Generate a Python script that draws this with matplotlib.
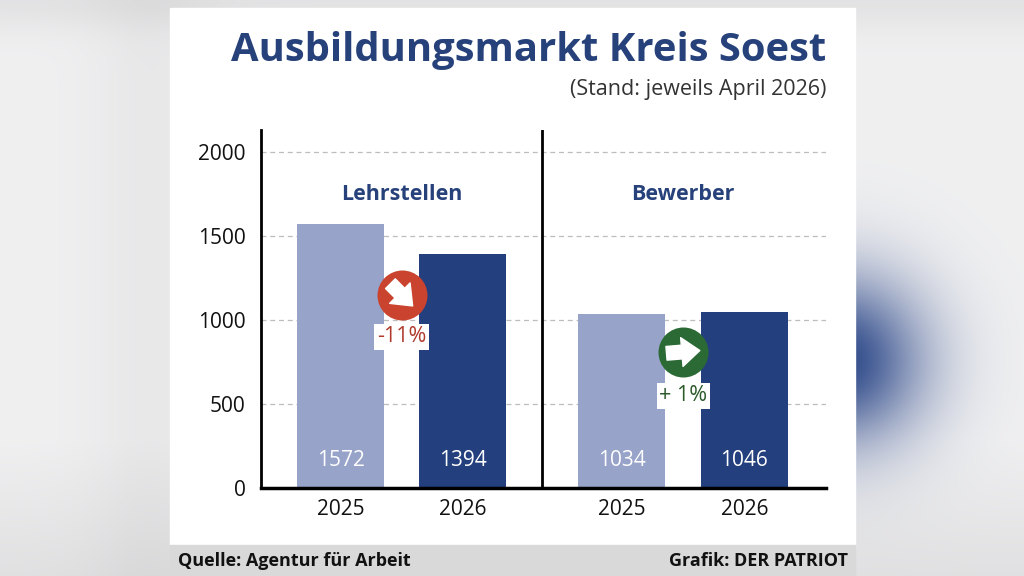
import numpy as np
import matplotlib
matplotlib.use("Agg")
import matplotlib.pyplot as plt
from matplotlib.patches import Rectangle
from matplotlib.transforms import offset_copy

# data
groups = ["Lehrstellen", "Bewerber"]
years = ["2025", "2026"]
lehrstellen = [1572, 1394]
bewerber = [1034, 1046]

title = "Ausbildungsmarkt Kreis Soest"
subtitle = "(Stand: jeweils April 2026)"
source = "Quelle: Agentur für Arbeit"
credit = "Grafik: DER PATRIOT"

# styling
light = "#97a3c9"
dark = "#243f7e"
navy = "#27417b"
font = ["Open Sans", "DejaVu Sans"]
plt.rcParams["font.family"] = font

fig = plt.figure(figsize=(10.24, 5.76), dpi=100)

# blurred photo background
H, W = 576, 1024
yy, xx = np.mgrid[0:H, 0:W]
base = 0.94 - 0.05 * np.exp(-((yy - 0) / 30.0) ** 2) - 0.06 * np.clip((yy - 440) / 136.0, 0, 1)
base = base - 0.03 * np.exp(-((xx - 150) / 60.0) ** 2)
img = np.dstack([base, base, base + 0.005])
blob = 0.95 * np.exp(-(((xx - 840) / 85.0) ** 2 + ((yy - 360) / 85.0) ** 2))
blue = np.array([0.16, 0.27, 0.53])
img = img * (1 - blob[..., None]) + blue * blob[..., None]
bg = fig.add_axes([0, 0, 1, 1], zorder=-10)
bg.imshow(np.clip(img, 0, 1), aspect="auto", extent=(0, W, H, 0))
bg.set_axis_off()

# white panel and footer
fig.patches.append(Rectangle((170 / W, (576 - 545) / H), 685 / W, 537 / H,
                             transform=fig.transFigure, color="white", zorder=-5))
fig.patches.append(Rectangle((170 / W, 0), 685 / W, 31 / H,
                             transform=fig.transFigure, color="#d9d9d9", zorder=-5))

fig.text(826 / W, 1 - 50 / H, title, ha="right", va="center", fontsize=28.8,
         fontweight="bold", color=navy)
fig.text(826 / W, 1 - 89 / H, subtitle, ha="right", va="center", fontsize=15.5,
         color="#333333")
fig.text(178 / W, 1 - 561 / H, source, ha="left", va="center", fontsize=13,
         fontweight="bold", color="#111111")
fig.text(848 / W, 1 - 561 / H, credit, ha="right", va="center", fontsize=13,
         fontweight="bold", color="#111111")

ax = fig.add_axes([261 / W, 1 - 488 / H, 565 / W, 358 / H])
ax.set_facecolor("none")

x = [0, 1, 2.307, 3.311]
values = lehrstellen + bewerber
colors = [light, dark, light, dark]
ax.bar(x, values, width=0.713, color=colors, zorder=2)
for xi, v in zip(x, values):
    ax.text(xi, 165, str(v), ha="center", va="center", color="white", fontsize=15, zorder=3)

ax.set_xlim(-0.652, 3.98)
ax.set_ylim(0, 2131)
ax.set_yticks([0, 500, 1000, 1500, 2000])
ax.set_xticks(x)
ax.set_xticklabels(years * 2)
ax.tick_params(axis="both", length=0, labelsize=15, colors="#111111")
ax.tick_params(axis="y", pad=11)
ax.tick_params(axis="x", pad=8)
for yv in [500, 1000, 1500, 2000]:
    ax.axhline(yv, color="#bdbdbd", lw=0.9, ls=(0, (4, 3)), zorder=1)
ax.axvline(1.652, color="black", lw=2, zorder=3)

for s in ["top", "right"]:
    ax.spines[s].set_visible(False)
ax.spines["left"].set_linewidth(2)
ax.spines["bottom"].set_linewidth(2.5)
ax.spines["bottom"].set_zorder(4)

# group titles
centers = [(x[0] + x[1]) / 2, (x[2] + x[3]) / 2]
for c, g in zip(centers, groups):
    ax.text(c, 1750, g, ha="center", va="center", fontsize=15.5, fontweight="bold", color=navy)

# change badges
pairs = [lehrstellen, bewerber]
badge_y = [1150, 810]
label_y = [899, 548]
for c, p, by, ly in zip(centers, pairs, badge_y, label_y):
    pct = round((p[1] - p[0]) / p[0] * 100)
    if pct < 0:
        fc, tc, lab, d = "#c9432f", "#b03a2c", f"{pct}%", (8, -8)
    else:
        fc, tc, lab, d = "#2b6a35", "#2b5a2b", f"+ {pct}%", (12, 1)
    ax.scatter([c], [by], s=36 ** 2, color=fc, zorder=6, linewidths=0)
    head = offset_copy(ax.transData, fig, x=d[0], y=d[1], units="points")
    ax.annotate("", xy=(c, by), xycoords=head, xytext=(-2 * d[0], -2 * d[1]),
                textcoords="offset points", zorder=7,
                arrowprops=dict(arrowstyle="simple,head_length=0.5,head_width=0.8,tail_width=0.38",
                                color="white", mutation_scale=26, shrinkA=0, shrinkB=0))
    ax.text(c, ly, lab, ha="center", va="center", fontsize=15.5, color=tc, zorder=6,
            bbox=dict(boxstyle="square,pad=0.12", fc="white", ec="none"))

fig.savefig("out.png", dpi=100)
